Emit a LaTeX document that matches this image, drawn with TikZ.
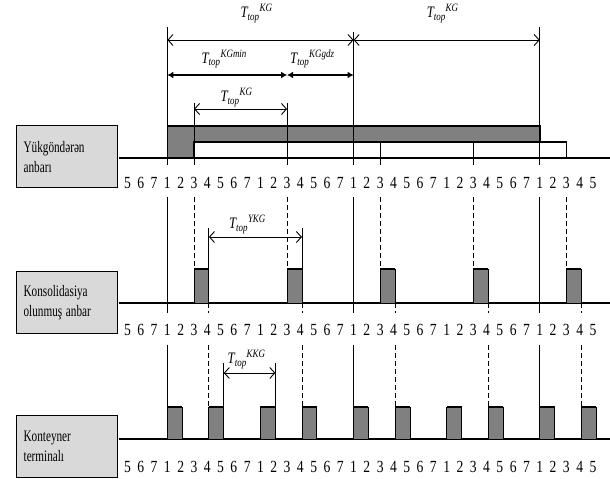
\documentclass[tikz,border=0pt]{standalone}
\usepackage{fontspec}
\setmainfont{Liberation Serif}
\usepackage{amsmath}
\usepackage{graphicx}
\usetikzlibrary{arrows.meta}

\definecolor{barGray}{RGB}{128,128,128}
\definecolor{boxGray}{RGB}{217,217,217}

\newcommand{\nar}[1]{\scalebox{0.7}[1]{#1}}
\newcommand{\Ttop}[1]{\scalebox{0.8}[1]{$\textit{T}_{\textit{top}}{}^{\textit{#1}}$}}

\begin{document}
\begin{tikzpicture}[x=13.3pt,y=-1pt,
  every node/.style={inner sep=0pt},
  lbl/.style={draw,line width=1.2pt,fill=boxGray,anchor=north west,
    text width=87pt,inner sep=7pt,minimum height=62pt,align=left,
    font=\fontsize{16}{20}\selectfont},
  day/.style={font=\fontsize{17}{17}\selectfont},
  guide/.style={line width=0.8pt},
  dguide/.style={line width=0.8pt,dash pattern=on 5pt off 3pt},
  baseln/.style={line width=1.2pt},
  blk/.style={draw,fill=barGray,line width=0.8pt},
  span/.style={{Straight Barb[length=5pt,width=11pt]}-{Straight Barb[length=5pt,width=11pt]},line width=0.9pt},
  fspan/.style={{Latex[length=6pt,width=7pt]}-{Latex[length=6pt,width=7pt]},line width=1.3pt},
  tlbl/.style={font=\fontsize{16}{16}\selectfont}]

\useasboundingbox (-9.586,0) rectangle (36.28,479);

% row labels
\node[lbl] (yuk) at (-8.38,125) {\nar{Yükgöndərən}\\\nar{anbarı}};
\node[lbl] (kons) at (-8.38,271) {\nar{Konsolidasiya}\\\nar{olunmuş anbar}};
\node[lbl] (kont) at (-8.38,415) {\nar{Konteyner}\\\nar{terminalı}};

% day numbers
\foreach \r/\y in {1/183,2/330,3/467}
  \foreach \i in {0,...,35} {
    \pgfmathtruncatemacro\dg{mod(\i+4,7)+1}
    \node[day] (d\r-\i) at (\i,\y) {\scalebox{0.8}[1]{\dg}};
  }

% sender warehouse
\draw[line width=1.6pt,fill=barGray] (3,126) -- (31,126) -- (31,142) -- (5,142)
  -- (5,158) -- (3,158) -- cycle;
\draw[line width=1.6pt,fill=white] (5,142) rectangle (33,158);
\draw[baseln] (-0.64,158) -- (36.28,158);
\foreach \i/\t in {3/27,17/32,31/27}
  \draw[guide] (\i,\t) -- (\i,165);
\foreach \i in {5,12}
  \draw[guide] (\i,103) -- (\i,165);
\foreach \i in {19,26}
  \draw[line width=1.2pt] (\i,142) -- (\i,165);

\draw[span] (3,40) -- node[tlbl,above=17pt,xshift=-4pt] (kg1) {\Ttop{KG}} (17,40);
\draw[span] (17,40) -- node[tlbl,above=17pt,xshift=-4pt] (kg2) {\Ttop{KG}} (31,40);
\draw[fspan] (3,75) -- node[tlbl,above=6pt,xshift=-3pt] (kgmin) {\Ttop{KGmin}} (12,75);
\draw[fspan] (12,75) -- node[tlbl,above=6pt,xshift=-8pt] (kggdz) {\Ttop{KGgdz}} (17,75);
\draw[span] (5,109) -- node[tlbl,above=2pt,xshift=-4pt] (kg3) {\Ttop{KG}} (12,109);

% consolidation warehouse
\draw[baseln] (-0.64,303) -- (36.28,303);
\foreach \i in {3,17,31}
  \draw[guide] (\i,197) -- (\i,313);
\foreach \i in {5,12,...,33} {
  \draw[dguide] (\i,197) -- (\i,269);
  \draw[blk] (\i,269) rectangle ++(1.12,34);
  \draw[line width=1.6pt] (\i,269) -- ++(1.12,0);
  \draw[dguide] (\i+1.12,303) -- ++(0,10);
}
\foreach \i in {6.12,13.12}
  \draw[guide] (\i,228) -- (\i,269);
\draw[span] (6.12,237) -- node[tlbl,above=3pt,xshift=-8pt] (ykg) {\Ttop{YKG}} (13.12,237);

% container terminal
\draw[baseln] (-0.64,439) -- (36.28,439);
\foreach \i in {3,17,31}
  \draw[guide] (\i,345) -- (\i,407);
\foreach \i in {6,13,...,34}
  \draw[dguide] (\i+0.12,345) -- (\i+0.12,407);
\foreach \i in {3,6.12,10,13.12,17,20.12,24,27.12,31,34.12} {
  \draw[blk] (\i,407) rectangle ++(1.12,32);
  \draw[line width=1.6pt] (\i,407) -- ++(1.12,0);
}
\foreach \i in {7.24,11.12}
  \draw[guide] (\i,363) -- (\i,407);
\draw[span] (7.24,373) -- node[tlbl,above=4pt,xshift=-3pt] (kkg) {\Ttop{KKG}} (11.12,373);

\end{tikzpicture}
\end{document}
